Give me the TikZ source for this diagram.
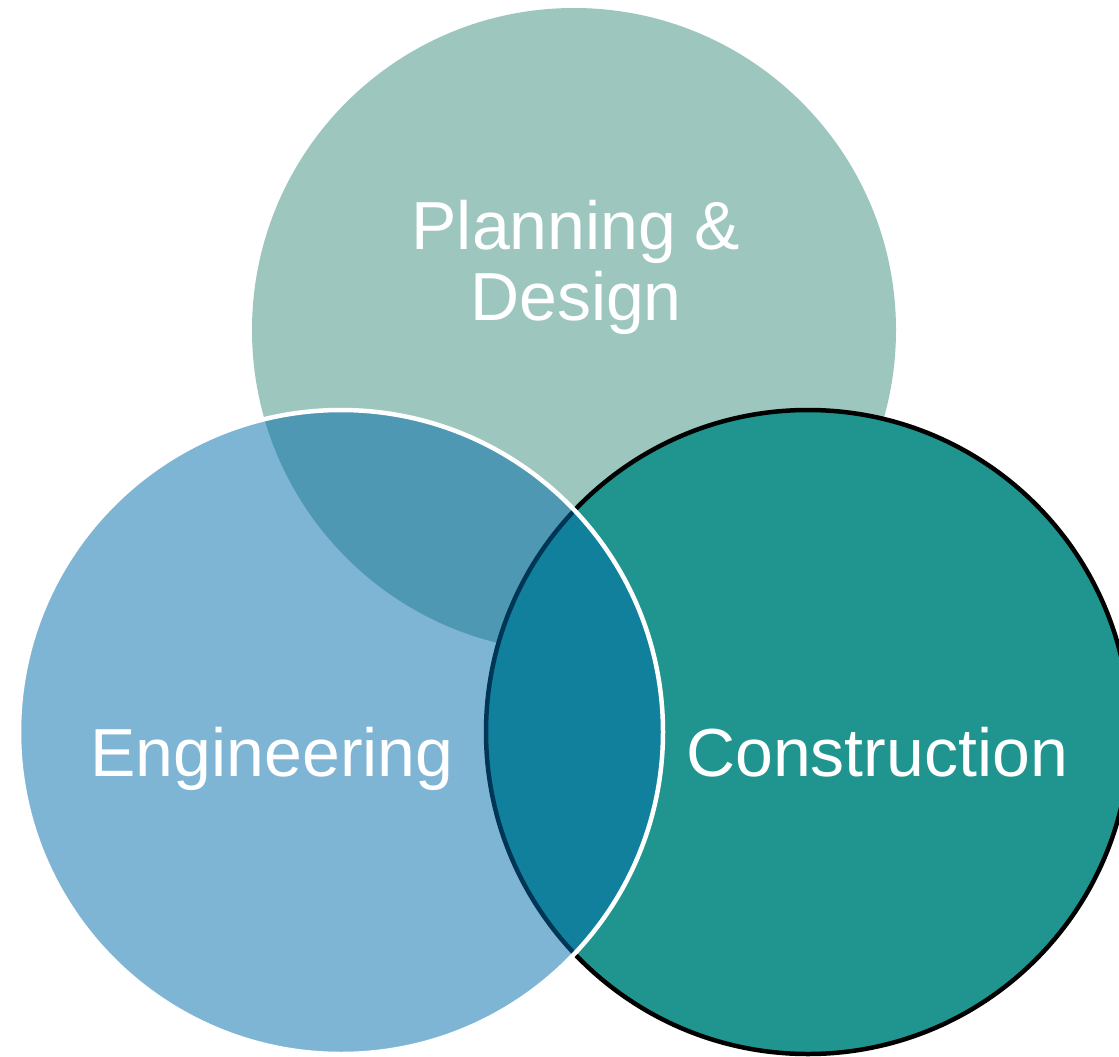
\documentclass[tikz,border=0pt]{standalone}
\usepackage{fontspec}
\setmainfont{Liberation Sans}
\definecolor{topc}{RGB}{157,198,190}
\definecolor{conc}{RGB}{32,149,143}
\definecolor{engc}{RGB}{1,108,170}
\begin{document}
\begin{tikzpicture}[x=1pt,y=-1pt,
  lbl/.style={text=white,inner sep=0pt,font=\fontsize{68}{71}\selectfont},
  topcirc/.style={fill=topc},
  concirc/.style={fill=conc,draw=black,line width=4.5pt},
  engcirc/.style={fill=engc,fill opacity=0.5,draw=white,draw opacity=1,line width=4.5pt}]
\useasboundingbox (0,0) rectangle (1119,1057);
\clip (0,0) rectangle (1119,1057);
\fill[white] (0,0) rectangle (1119,1057);
\path[topcirc] (574,330) circle[radius=322];
\path[concirc] (808,732) circle[radius=322];
\path[engcirc] (341,732) circle[radius=322];
\node[lbl,align=center] (plan) at (576,267) {Planning \&\\Design};
\node[lbl,anchor=base] (eng) at (272,776) {Engineering};
\node[lbl,anchor=base] (con) at (877,776) {Construction};
\end{tikzpicture}
\end{document}
